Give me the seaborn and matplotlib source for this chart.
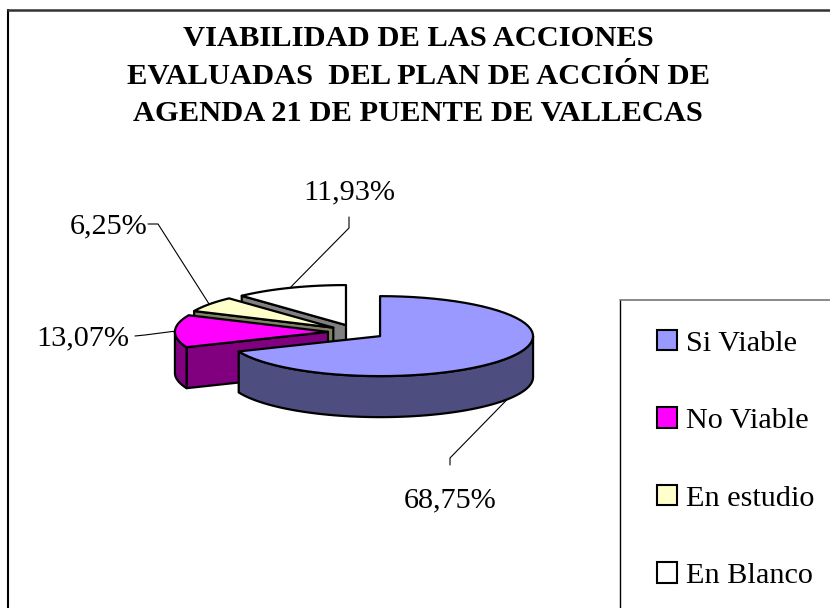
import numpy as np
import matplotlib
matplotlib.use('Agg')
import matplotlib.pyplot as plt
from matplotlib.patches import Patch
import seaborn as sns

# datos
categorias = ['Si Viable', 'No Viable', 'En estudio', 'En Blanco']
valores = [68.75, 13.07, 6.25, 11.93]
etiquetas = ['68,75%', '13,07%', '6,25%', '11,93%']
titulo = 'VIABILIDAD DE LAS ACCIONES\nEVALUADAS  DEL PLAN DE ACCIÓN DE\nAGENDA 21 DE PUENTE DE VALLECAS'

colores_top = ['#9999ff', '#ff00ff', '#ffffcc', '#ffffff']
colores_lado = ['#4d4d80', '#800080', '#808066', '#808080']

# geometria de la tarta, en pixeles
cx, cy = 356.4, 332.0
rx, ry = 153.0, 40.0
alto = 41.0
explode = 0.186

sns.set_theme(style='white')
plt.rcParams['font.family'] = ['Liberation Serif', 'DejaVu Serif']

fig = plt.figure(figsize=(8.3, 6.08), dpi=100)
ax = fig.add_axes([0, 0, 1, 1])
ax.set_xlim(0, 830)
ax.set_ylim(608, 0)
ax.axis('off')

# marco exterior
ax.plot([8, 8], [608, 10], color='#000000', lw=1.5)
ax.plot([8, 830], [10, 10], color='#333333', lw=1.8)

angulos = np.radians(np.concatenate([[0], np.cumsum(valores)]) * 3.6)
medios = (angulos[:-1] + angulos[1:]) / 2
centros = [(cx + explode * rx * np.sin(m), cy - explode * ry * np.cos(m)) for m in medios]


def arco(c, a, b, dy=0.0):
    t = np.linspace(a, b, 60)
    return c[0] + rx * np.sin(t), c[1] - ry * np.cos(t) + dy


# de atras hacia delante
for i in [3, 2, 1, 0]:
    c = centros[i]
    a, b = angulos[i], angulos[i + 1]
    # cara radial de entrada, se ve en las porciones de la izquierda
    if a > np.pi:
        xr, yr = arco(c, a, a)
        ax.fill([c[0], xr[0], xr[0], c[0]], [c[1], yr[0], yr[0] + alto, c[1] + alto],
                facecolor=colores_lado[i], edgecolor='black', lw=1.6, joinstyle='round')
    # borde curvo frontal
    lo, hi = max(a, np.pi / 2), min(b, 1.5 * np.pi)
    if hi > lo:
        xs, ys = arco(c, lo, hi)
        xi, yi = arco(c, hi, lo, alto)
        ax.fill(np.r_[xs, xi], np.r_[ys, yi], facecolor=colores_lado[i],
                edgecolor='black', lw=1.6, joinstyle='round')
    # tapa
    xs, ys = arco(c, a, b)
    ax.fill(np.r_[c[0], xs], np.r_[c[1], ys], facecolor=colores_top[i],
            edgecolor='black', lw=1.6, joinstyle='round')

# lineas guia y etiquetas
codos = [[(450, 458), (450, 465)], [(145, 335), (135, 336)], [(158, 224), (148, 224)], [(349, 228), (349, 217)]]
pos_etq = [(450, 500), (83, 338), (109, 226), (349, 192)]
for i in range(4):
    c = centros[i]
    m = medios[i]
    x0 = c[0] + rx * np.sin(m)
    y0 = c[1] - ry * np.cos(m) + (alto if i == 0 else 0)
    ax.plot([x0, codos[i][0][0], codos[i][1][0]], [y0, codos[i][0][1], codos[i][1][1]],
            color='black', lw=0.8)
    ax.text(pos_etq[i][0], pos_etq[i][1], etiquetas[i], fontsize=21.8, ha='center',
            va='center', color='black')

ax.text(418, 76, titulo, fontsize=21.95, fontweight='bold', ha='center', va='center',
        linespacing=1.49, color='black')

# leyenda
ax.plot([620, 620], [608, 300], color='black', lw=1.0)
ax.plot([620, 830], [300, 300], color='#777777', lw=1.2)
manejadores = [Patch(facecolor=col, edgecolor='black', lw=1.5, label=cat)
               for col, cat in zip(colores_top, categorias)]
ax.legend(handles=manejadores, loc='upper left', bbox_to_anchor=(657 / 830, 1 - 330 / 608),
          bbox_transform=ax.transAxes, frameon=False, fontsize=21.8, labelcolor='black',
          labelspacing=1.67, handlelength=0.66, handleheight=0.66, handletextpad=0.3,
          borderpad=0, borderaxespad=0)

fig.savefig('out.png', dpi=100)
